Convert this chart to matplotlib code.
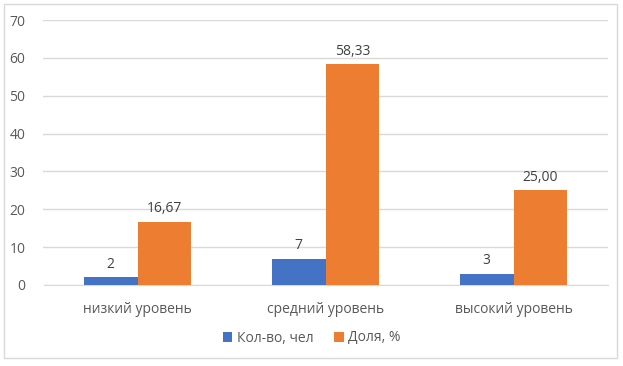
import matplotlib.pyplot as plt
from matplotlib.patches import Rectangle
import numpy as np

# Данные
categories = ['низкий уровень', 'средний уровень', 'высокий уровень']
kol_vo = [2, 7, 3]
dolya = [16.67, 58.33, 25.00]
labels_kol = ['2', '7', '3']
labels_dolya = ['16,67', '58,33', '25,00']

plt.rcParams['font.family'] = ['Open Sans', 'DejaVu Sans']
text_color = '#595959'

fig = plt.figure(figsize=(6.23, 3.66), dpi=100)
ax = fig.add_axes([43.5 / 623, 1 - 285 / 366, 564 / 623, 265 / 366])

# рамка вокруг диаграммы
fig.patches.append(Rectangle((4 / 623, 1 - 358 / 366), 613 / 623, 354 / 366,
                             transform=fig.transFigure, fill=False,
                             edgecolor='#D9D9D9', linewidth=1))

x = np.arange(len(categories))
w = 0.285
b1 = ax.bar(x - w / 2, kol_vo, w, color='#4472C4', label='Кол-во, чел', zorder=3)
b2 = ax.bar(x + w / 2, dolya, w, color='#ED7D31', label='Доля, %', zorder=3)

ax.bar_label(b1, labels=labels_kol, padding=4, fontsize=10, color='#404040')
ax.bar_label(b2, labels=labels_dolya, padding=4, fontsize=10, color='#404040')

ax.set_xlim(-0.5, 2.5)
ax.set_ylim(0, 70)
ax.set_yticks(range(0, 71, 10))
ax.set_xticks(x)
ax.set_xticklabels(categories)
ax.tick_params(axis='both', length=0, labelsize=10, colors=text_color)
ax.tick_params(axis='x', pad=12)
ax.tick_params(axis='y', pad=13)

ax.grid(axis='y', color='#D9D9D9', linewidth=1, zorder=0)
for s in ['top', 'right', 'left']:
    ax.spines[s].set_visible(False)
ax.spines['bottom'].set_color('#D9D9D9')

fig.legend(loc='center', bbox_to_anchor=(0.5, 1 - 338 / 366), ncol=2,
           frameon=False, fontsize=10, labelcolor=text_color,
           handlelength=0.7, handleheight=0.7, handletextpad=0.3, columnspacing=1.5)

plt.savefig('out.png', dpi=100)
